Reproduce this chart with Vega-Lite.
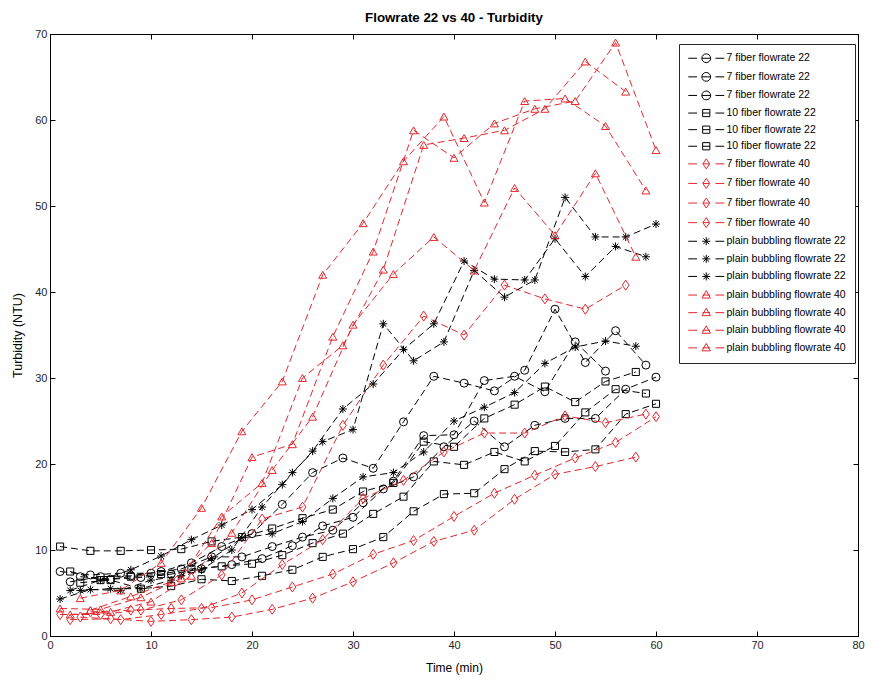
{
  "$schema": "https://vega.github.io/schema/vega-lite/v6.json",
  "width": 808,
  "height": 602,
  "autosize": {"type": "none"},
  "padding": {"left": 50, "top": 34, "right": 17, "bottom": 49},
  "background": "#ffffff",
  "config": {
    "view": {"stroke": "#000000", "strokeWidth": 1},
    "font": "Liberation Sans"
  },
  "title": {"text": "Flowrate 22 vs 40 - Turbidity", "font": "Liberation Sans", "fontSize": 13.3, "fontWeight": "bold", "color": "#000000", "offset": 4, "anchor": "middle"},
  "data": {"values": [
    {"s":"a1","x":1,"y":7.5},{"s":"a1","x":4,"y":7.1},{"s":"a1","x":7,"y":7.3},{"s":"a1","x":10,"y":7.3},{"s":"a1","x":13,"y":7.8},{"s":"a1","x":16,"y":9.2},{"s":"a1","x":19,"y":9.2},{"s":"a1","x":22,"y":10.4},{"s":"a1","x":25,"y":11.5},{"s":"a1","x":28,"y":12.3},{"s":"a1","x":31,"y":15.5},{"s":"a1","x":34,"y":18},{"s":"a1","x":37,"y":23.3},{"s":"a1","x":40,"y":23.4},{"s":"a1","x":43,"y":29.7},{"s":"a1","x":46,"y":30.2},{"s":"a1","x":49,"y":28.4},{"s":"a1","x":52,"y":34.2},{"s":"a1","x":55,"y":30.8},
    {"s":"a2","x":2,"y":6.3},{"s":"a2","x":5,"y":6.9},{"s":"a2","x":8,"y":7},{"s":"a2","x":11,"y":7.5},{"s":"a2","x":14,"y":8.5},{"s":"a2","x":17,"y":10.4},{"s":"a2","x":20,"y":11.9},{"s":"a2","x":23,"y":15.3},{"s":"a2","x":26,"y":19},{"s":"a2","x":29,"y":20.7},{"s":"a2","x":32,"y":19.5},{"s":"a2","x":35,"y":24.9},{"s":"a2","x":38,"y":30.2},{"s":"a2","x":41,"y":29.4},{"s":"a2","x":44,"y":28.5},{"s":"a2","x":47,"y":30.9},{"s":"a2","x":50,"y":38},{"s":"a2","x":53,"y":31.8},{"s":"a2","x":56,"y":35.5},{"s":"a2","x":59,"y":31.5},
    {"s":"a3","x":3,"y":6.9},{"s":"a3","x":6,"y":6.6},{"s":"a3","x":9,"y":6.8},{"s":"a3","x":12,"y":7.2},{"s":"a3","x":15,"y":7.8},{"s":"a3","x":18,"y":8.3},{"s":"a3","x":21,"y":9},{"s":"a3","x":24,"y":10.5},{"s":"a3","x":27,"y":12.8},{"s":"a3","x":30,"y":13.8},{"s":"a3","x":33,"y":17.1},{"s":"a3","x":36,"y":18.5},{"s":"a3","x":39,"y":22},{"s":"a3","x":42,"y":25},{"s":"a3","x":45,"y":22},{"s":"a3","x":48,"y":24.5},{"s":"a3","x":51,"y":25.3},{"s":"a3","x":54,"y":25.3},{"s":"a3","x":57,"y":28.7},{"s":"a3","x":60,"y":30.1},
    {"s":"b1","x":1,"y":10.4},{"s":"b1","x":4,"y":9.9},{"s":"b1","x":7,"y":9.9},{"s":"b1","x":10,"y":10},{"s":"b1","x":13,"y":10.1},{"s":"b1","x":16,"y":11},{"s":"b1","x":19,"y":11.5},{"s":"b1","x":22,"y":12.5},{"s":"b1","x":25,"y":13.7},{"s":"b1","x":28,"y":14.7},{"s":"b1","x":31,"y":16.8},{"s":"b1","x":34,"y":17.8},{"s":"b1","x":37,"y":22.6},{"s":"b1","x":40,"y":22},{"s":"b1","x":43,"y":25.3},{"s":"b1","x":46,"y":26.9},{"s":"b1","x":49,"y":29},{"s":"b1","x":52,"y":27.2},{"s":"b1","x":55,"y":29.6},{"s":"b1","x":58,"y":30.7},
    {"s":"b2","x":2,"y":7.5},{"s":"b2","x":5,"y":6.5},{"s":"b2","x":8,"y":6.9},{"s":"b2","x":11,"y":7.2},{"s":"b2","x":14,"y":7.8},{"s":"b2","x":17,"y":8.1},{"s":"b2","x":20,"y":8.4},{"s":"b2","x":23,"y":9.4},{"s":"b2","x":26,"y":10.8},{"s":"b2","x":29,"y":11.9},{"s":"b2","x":32,"y":14.2},{"s":"b2","x":35,"y":16.2},{"s":"b2","x":38,"y":20.3},{"s":"b2","x":41,"y":19.9},{"s":"b2","x":44,"y":21.4},{"s":"b2","x":47,"y":20.3},{"s":"b2","x":50,"y":22.1},{"s":"b2","x":53,"y":26},{"s":"b2","x":56,"y":28.7},{"s":"b2","x":59,"y":28.2},
    {"s":"b3","x":3,"y":6.2},{"s":"b3","x":6,"y":6.5},{"s":"b3","x":9,"y":5.5},{"s":"b3","x":12,"y":5.8},{"s":"b3","x":15,"y":6.6},{"s":"b3","x":18,"y":6.4},{"s":"b3","x":21,"y":7},{"s":"b3","x":24,"y":7.7},{"s":"b3","x":27,"y":9.2},{"s":"b3","x":30,"y":10.1},{"s":"b3","x":33,"y":11.5},{"s":"b3","x":36,"y":14.5},{"s":"b3","x":39,"y":16.5},{"s":"b3","x":42,"y":16.6},{"s":"b3","x":45,"y":19.4},{"s":"b3","x":48,"y":21.5},{"s":"b3","x":51,"y":21.4},{"s":"b3","x":54,"y":21.7},{"s":"b3","x":57,"y":25.8},{"s":"b3","x":60,"y":27},
    {"s":"c1","x":1,"y":2.5},{"s":"c1","x":5,"y":2.5},{"s":"c1","x":9,"y":3},{"s":"c1","x":13,"y":4.2},{"s":"c1","x":17,"y":7.1},{"s":"c1","x":21,"y":13.6},{"s":"c1","x":25,"y":15},{"s":"c1","x":29,"y":24.5},{"s":"c1","x":33,"y":31.5},{"s":"c1","x":37,"y":37.2},{"s":"c1","x":41,"y":35},{"s":"c1","x":45,"y":40.8},{"s":"c1","x":49,"y":39.2},{"s":"c1","x":53,"y":38},{"s":"c1","x":57,"y":40.8},
    {"s":"c2","x":2,"y":1.9},{"s":"c2","x":6,"y":2},{"s":"c2","x":10,"y":1.7},{"s":"c2","x":14,"y":1.9},{"s":"c2","x":18,"y":2.2},{"s":"c2","x":22,"y":3.1},{"s":"c2","x":26,"y":4.4},{"s":"c2","x":30,"y":6.3},{"s":"c2","x":34,"y":8.5},{"s":"c2","x":38,"y":11},{"s":"c2","x":42,"y":12.3},{"s":"c2","x":46,"y":15.9},{"s":"c2","x":50,"y":18.8},{"s":"c2","x":54,"y":19.7},{"s":"c2","x":58,"y":20.8},
    {"s":"c3","x":3,"y":2.2},{"s":"c3","x":7,"y":1.9},{"s":"c3","x":11,"y":2.5},{"s":"c3","x":15,"y":3.2},{"s":"c3","x":19,"y":5},{"s":"c3","x":23,"y":8.3},{"s":"c3","x":27,"y":11.2},{"s":"c3","x":31,"y":16},{"s":"c3","x":35,"y":18.1},{"s":"c3","x":39,"y":21.4},{"s":"c3","x":43,"y":23.6},{"s":"c3","x":47,"y":23.6},{"s":"c3","x":51,"y":25.6},{"s":"c3","x":55,"y":24.8},{"s":"c3","x":59,"y":25.8},
    {"s":"c4","x":4,"y":2.8},{"s":"c4","x":8,"y":3},{"s":"c4","x":12,"y":3.2},{"s":"c4","x":16,"y":3.3},{"s":"c4","x":20,"y":4.2},{"s":"c4","x":24,"y":5.7},{"s":"c4","x":28,"y":7.2},{"s":"c4","x":32,"y":9.5},{"s":"c4","x":36,"y":11.1},{"s":"c4","x":40,"y":13.9},{"s":"c4","x":44,"y":16.6},{"s":"c4","x":48,"y":18.7},{"s":"c4","x":52,"y":20.7},{"s":"c4","x":56,"y":22.5},{"s":"c4","x":60,"y":25.5},
    {"s":"d1","x":1,"y":4.3},{"s":"d1","x":4,"y":5.4},{"s":"d1","x":7,"y":5.3},{"s":"d1","x":10,"y":6.5},{"s":"d1","x":13,"y":7},{"s":"d1","x":16,"y":9},{"s":"d1","x":19,"y":11.4},{"s":"d1","x":22,"y":11.9},{"s":"d1","x":25,"y":13.3},{"s":"d1","x":28,"y":16},{"s":"d1","x":31,"y":18.5},{"s":"d1","x":34,"y":19},{"s":"d1","x":37,"y":21.4},{"s":"d1","x":40,"y":25},{"s":"d1","x":43,"y":26.6},{"s":"d1","x":46,"y":28.3},{"s":"d1","x":49,"y":31.7},{"s":"d1","x":52,"y":33.6},{"s":"d1","x":55,"y":34.3},{"s":"d1","x":58,"y":33.7},
    {"s":"d2","x":2,"y":5.3},{"s":"d2","x":5,"y":6.5},{"s":"d2","x":8,"y":7.7},{"s":"d2","x":11,"y":9.3},{"s":"d2","x":14,"y":11.2},{"s":"d2","x":17,"y":12.9},{"s":"d2","x":20,"y":14.7},{"s":"d2","x":23,"y":17.6},{"s":"d2","x":26,"y":21.5},{"s":"d2","x":29,"y":26.4},{"s":"d2","x":32,"y":29.3},{"s":"d2","x":35,"y":33.3},{"s":"d2","x":38,"y":36.3},{"s":"d2","x":41,"y":43.6},{"s":"d2","x":44,"y":41.5},{"s":"d2","x":47,"y":41.4},{"s":"d2","x":50,"y":46.2},{"s":"d2","x":53,"y":41.8},{"s":"d2","x":56,"y":45.3},{"s":"d2","x":59,"y":44.1},
    {"s":"d3","x":3,"y":5.3},{"s":"d3","x":6,"y":5.5},{"s":"d3","x":9,"y":5.5},{"s":"d3","x":12,"y":6.5},{"s":"d3","x":15,"y":7.7},{"s":"d3","x":18,"y":10},{"s":"d3","x":21,"y":15},{"s":"d3","x":24,"y":19},{"s":"d3","x":27,"y":22.6},{"s":"d3","x":30,"y":24},{"s":"d3","x":33,"y":36.3},{"s":"d3","x":36,"y":32},{"s":"d3","x":39,"y":34.2},{"s":"d3","x":42,"y":42.5},{"s":"d3","x":45,"y":39.4},{"s":"d3","x":48,"y":41.4},{"s":"d3","x":51,"y":51},{"s":"d3","x":54,"y":46.4},{"s":"d3","x":57,"y":46.4},{"s":"d3","x":60,"y":47.9},
    {"s":"e1","x":1,"y":3.2},{"s":"e1","x":5,"y":3.1},{"s":"e1","x":9,"y":4.5},{"s":"e1","x":13,"y":6.7},{"s":"e1","x":17,"y":13.9},{"s":"e1","x":21,"y":17.8},{"s":"e1","x":25,"y":30},{"s":"e1","x":29,"y":33.8},{"s":"e1","x":33,"y":42.6},{"s":"e1","x":37,"y":57.1},{"s":"e1","x":41,"y":57.9},{"s":"e1","x":45,"y":58.8},{"s":"e1","x":49,"y":61.3},{"s":"e1","x":53,"y":66.8},{"s":"e1","x":57,"y":63.3},
    {"s":"e2","x":2,"y":2.5},{"s":"e2","x":6,"y":2.8},{"s":"e2","x":10,"y":4},{"s":"e2","x":14,"y":7},{"s":"e2","x":18,"y":12},{"s":"e2","x":22,"y":19.3},{"s":"e2","x":26,"y":25.5},{"s":"e2","x":30,"y":36.2},{"s":"e2","x":34,"y":42.1},{"s":"e2","x":38,"y":46.4},{"s":"e2","x":42,"y":42.5},{"s":"e2","x":46,"y":52.1},{"s":"e2","x":50,"y":46.6},{"s":"e2","x":54,"y":53.8},{"s":"e2","x":58,"y":44.1},
    {"s":"e3","x":3,"y":4.4},{"s":"e3","x":7,"y":5.3},{"s":"e3","x":11,"y":8.5},{"s":"e3","x":15,"y":14.9},{"s":"e3","x":19,"y":23.8},{"s":"e3","x":23,"y":29.6},{"s":"e3","x":27,"y":42},{"s":"e3","x":31,"y":48},{"s":"e3","x":35,"y":55.2},{"s":"e3","x":39,"y":60.4},{"s":"e3","x":43,"y":50.4},{"s":"e3","x":47,"y":62.2},{"s":"e3","x":51,"y":62.5},{"s":"e3","x":55,"y":59.3},{"s":"e3","x":59,"y":51.8},
    {"s":"e4","x":4,"y":3},{"s":"e4","x":8,"y":4.6},{"s":"e4","x":12,"y":6.3},{"s":"e4","x":16,"y":10.8},{"s":"e4","x":20,"y":20.8},{"s":"e4","x":24,"y":22.3},{"s":"e4","x":28,"y":34.8},{"s":"e4","x":32,"y":44.7},{"s":"e4","x":36,"y":58.8},{"s":"e4","x":40,"y":55.6},{"s":"e4","x":44,"y":59.6},{"s":"e4","x":48,"y":61.3},{"s":"e4","x":52,"y":62.2},{"s":"e4","x":56,"y":69},{"s":"e4","x":60,"y":56.5}
  ]},
  "layer": [
    {
      "encoding": {
        "x": {"field": "x", "type": "quantitative", "scale": {"domain": [0, 80], "nice": false},
          "axis": {"title": "Time (min)", "values": [0,10,20,30,40,50,60,70,80], "grid": false, "tickSize": -5, "labelPadding": 8, "domainColor": "#000000", "tickColor": "#000000", "labelColor": "#262626", "labelFont": "Liberation Sans", "labelFontSize": 11, "titleFont": "Liberation Sans", "titleFontSize": 12, "titleFontWeight": "normal", "titleColor": "#000000", "titlePadding": 12, "labelFlush": false}},
        "y": {"field": "y", "type": "quantitative", "scale": {"domain": [0, 70], "nice": false},
          "axis": {"title": "Turbidity (NTU)", "values": [0,10,20,30,40,50,60,70], "grid": false, "tickSize": -5, "labelPadding": 8, "domainColor": "#000000", "tickColor": "#000000", "labelColor": "#262626", "labelFont": "Liberation Sans", "labelFontSize": 11, "titleFont": "Liberation Sans", "titleFontSize": 12.5, "titleFontWeight": "normal", "titleColor": "#000000", "titlePadding": 10, "labelFlush": false}}
      },
      "layer": [
        {"transform": [{"filter": "slice(datum.s,0,1)=='a'"}],
         "mark": {"type": "line", "strokeDash": [7, 4], "strokeWidth": 1, "color": "#000000"},
         "encoding": {"detail": {"field": "s", "type": "nominal"}}},
        {"transform": [{"filter": "slice(datum.s,0,1)=='a'"}],
         "mark": {"type": "point", "shape": "circle", "filled": false, "size": 64, "strokeWidth": 1, "opacity": 1, "color": "#000000"},
         "encoding": {"detail": {"field": "s", "type": "nominal"}}},
        {"transform": [{"filter": "slice(datum.s,0,1)=='b'"}],
         "mark": {"type": "line", "strokeDash": [7, 4], "strokeWidth": 1, "color": "#000000"},
         "encoding": {"detail": {"field": "s", "type": "nominal"}}},
        {"transform": [{"filter": "slice(datum.s,0,1)=='b'"}],
         "mark": {"type": "point", "shape": "square", "filled": false, "size": 50, "strokeWidth": 1, "opacity": 1, "color": "#000000"},
         "encoding": {"detail": {"field": "s", "type": "nominal"}}},
        {"transform": [{"filter": "slice(datum.s,0,1)=='c'"}],
         "mark": {"type": "line", "strokeDash": [7, 4], "strokeWidth": 1, "color": "#e3272d"},
         "encoding": {"detail": {"field": "s", "type": "nominal"}}},
        {"transform": [{"filter": "slice(datum.s,0,1)=='c'"}],
         "mark": {"type": "point", "shape": "M0,-1.25L0.85,0L0,1.25L-0.85,0Z", "filled": false, "size": 64, "strokeWidth": 1, "opacity": 1, "color": "#e3272d"},
         "encoding": {"detail": {"field": "s", "type": "nominal"}}},
        {"transform": [{"filter": "slice(datum.s,0,1)=='d'"}],
         "mark": {"type": "line", "strokeDash": [7, 4], "strokeWidth": 1, "color": "#000000"},
         "encoding": {"detail": {"field": "s", "type": "nominal"}}},
        {"transform": [{"filter": "slice(datum.s,0,1)=='d'"}],
         "mark": {"type": "point", "shape": "M-1,0H1M0,-1V1M-0.72,-0.72L0.72,0.72M-0.72,0.72L0.72,-0.72", "filled": false, "size": 64, "strokeWidth": 1, "opacity": 1, "color": "#000000"},
         "encoding": {"detail": {"field": "s", "type": "nominal"}}},
        {"transform": [{"filter": "slice(datum.s,0,1)=='e'"}],
         "mark": {"type": "line", "strokeDash": [7, 4], "strokeWidth": 1, "color": "#e3272d"},
         "encoding": {"detail": {"field": "s", "type": "nominal"}}},
        {"transform": [{"filter": "slice(datum.s,0,1)=='e'"}],
         "mark": {"type": "point", "shape": "triangle-up", "filled": false, "size": 64, "strokeWidth": 1, "opacity": 1, "color": "#e3272d"},
         "encoding": {"detail": {"field": "s", "type": "nominal"}}}
      ]
    },
    {
      "transform": [{"filter": "false"}],
      "mark": {"type": "point", "filled": false, "size": 64, "strokeWidth": 1, "opacity": 1},
      "encoding": {
        "x": {"field": "x", "type": "quantitative", "axis": {"orient": "top", "values": [0,10,20,30,40,50,60,70,80], "labels": false, "title": null, "grid": false, "tickSize": -5, "domainColor": "#000000", "tickColor": "#000000"}},
        "y": {"field": "y", "type": "quantitative", "axis": {"orient": "right", "values": [0,10,20,30,40,50,60,70], "labels": false, "title": null, "grid": false, "tickSize": -5, "domainColor": "#000000", "tickColor": "#000000"}},
        "color": {"field": "s", "type": "nominal",
          "scale": {"domain": ["a1","a2","a3","b1","b2","b3","c1","c2","c3","c4","d1","d2","d3","e1","e2","e3","e4"],
                    "range": ["#000000","#000000","#000000","#000000","#000000","#000000","#e3272d","#e3272d","#e3272d","#e3272d","#000000","#000000","#000000","#e3272d","#e3272d","#e3272d","#e3272d"]},
          "legend": {"orient": "none", "legendX": 629, "legendY": 10, "title": null,
            "labelExpr": "slice(datum.value,0,1)=='a' ? '7 fiber flowrate 22' : slice(datum.value,0,1)=='b' ? '10 fiber flowrate 22' : slice(datum.value,0,1)=='c' ? '7 fiber flowrate 40' : slice(datum.value,0,1)=='d' ? 'plain bubbling flowrate 22' : 'plain bubbling flowrate 40'",
            "labelFont": "Liberation Sans", "labelFontSize": 10.5, "labelColor": "#000000", "labelLimit": 400,
            "strokeColor": "#262626", "fillColor": "#ffffff", "padding": 9, "rowPadding": 4.6,
            "symbolSize": 64, "symbolStrokeWidth": 1, "symbolOffset": 13, "labelOffset": 15}},
        "shape": {"field": "s", "type": "nominal",
          "scale": {"domain": ["a1","a2","a3","b1","b2","b3","c1","c2","c3","c4","d1","d2","d3","e1","e2","e3","e4"],
            "range": [
              "M-4.5,0H-2.3M-1.1,0H1.1M2.3,0H4.5M1.1,0A1.1,1.1 0 1 1 -1.1,0A1.1,1.1 0 1 1 1.1,0",
              "M-4.5,0H-2.3M-1.1,0H1.1M2.3,0H4.5M1.1,0A1.1,1.1 0 1 1 -1.1,0A1.1,1.1 0 1 1 1.1,0",
              "M-4.5,0H-2.3M-1.1,0H1.1M2.3,0H4.5M1.1,0A1.1,1.1 0 1 1 -1.1,0A1.1,1.1 0 1 1 1.1,0",
              "M-4.5,0H-2.3M-0.9,0H0.9M2.3,0H4.5M-0.9,-0.9H0.9V0.9H-0.9Z",
              "M-4.5,0H-2.3M-0.9,0H0.9M2.3,0H4.5M-0.9,-0.9H0.9V0.9H-0.9Z",
              "M-4.5,0H-2.3M-0.9,0H0.9M2.3,0H4.5M-0.9,-0.9H0.9V0.9H-0.9Z",
              "M-4.5,0H-2.3M-0.85,0H0.85M2.3,0H4.5M0,-1.25L0.85,0L0,1.25L-0.85,0Z",
              "M-4.5,0H-2.3M-0.85,0H0.85M2.3,0H4.5M0,-1.25L0.85,0L0,1.25L-0.85,0Z",
              "M-4.5,0H-2.3M-0.85,0H0.85M2.3,0H4.5M0,-1.25L0.85,0L0,1.25L-0.85,0Z",
              "M-4.5,0H-2.3M-0.85,0H0.85M2.3,0H4.5M0,-1.25L0.85,0L0,1.25L-0.85,0Z",
              "M-4.5,0H-2.3M2.3,0H4.5M-1,0H1M0,-1V1M-0.72,-0.72L0.72,0.72M-0.72,0.72L0.72,-0.72",
              "M-4.5,0H-2.3M2.3,0H4.5M-1,0H1M0,-1V1M-0.72,-0.72L0.72,0.72M-0.72,0.72L0.72,-0.72",
              "M-4.5,0H-2.3M2.3,0H4.5M-1,0H1M0,-1V1M-0.72,-0.72L0.72,0.72M-0.72,0.72L0.72,-0.72",
              "M-4.5,0H-2.3M-0.95,0H0.95M2.3,0H4.5M0,-1.1L1.05,0.75H-1.05Z",
              "M-4.5,0H-2.3M-0.95,0H0.95M2.3,0H4.5M0,-1.1L1.05,0.75H-1.05Z",
              "M-4.5,0H-2.3M-0.95,0H0.95M2.3,0H4.5M0,-1.1L1.05,0.75H-1.05Z",
              "M-4.5,0H-2.3M-0.95,0H0.95M2.3,0H4.5M0,-1.1L1.05,0.75H-1.05Z"
            ]}}
      }
    }
  ],
  "resolve": {"axis": {"x": "independent", "y": "independent"}}
}
